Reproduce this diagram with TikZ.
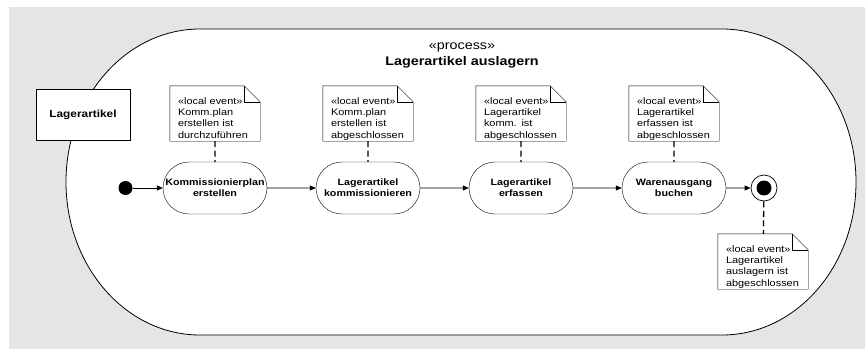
\documentclass[tikz,border=0pt]{standalone}
\usepackage{fontspec}
\setmainfont{Liberation Sans}[FakeStretch=1.15]
\usepackage{tikz}
\usetikzlibrary{arrows.meta,shapes.misc}

\definecolor{bgfill}{HTML}{E5E5E5}

% dog-eared frame round an event note
\newcommand{\evframe}[1]{%
  \draw (#1.south west) -- (#1.north west) -- ([xshift=-16pt]#1.north east)
    -- ([yshift=-16pt]#1.north east) -- (#1.south east) -- cycle;
  \draw ([xshift=-16pt]#1.north east) |- ([yshift=-16pt]#1.north east);}

\begin{document}
\begin{tikzpicture}[x=1pt,y=1pt,
  action/.style={draw, rounded rectangle, minimum width=104pt, minimum height=52pt,
    inner sep=0pt, align=center, font=\fontsize{9.3}{11}\selectfont\bfseries},
  event/.style={inner xsep=8pt, inner ysep=0pt, text width=74pt, align=left,
    text height=18.5pt, text depth=36.5pt, font=\fontsize{9.5}{11.2}\selectfont},
  flow/.style={line width=0.7pt, -{Triangle[length=6pt,width=5pt]}},
  link/.style={line width=1.3pt, dash pattern=on 6pt off 3.5pt}]
  \useasboundingbox (0,0) rectangle (865,349);
  \fill[bgfill] (9,0) rectangle (865,341.5);

  % process frame
  \draw[line width=0.8pt, fill=white] (200,320) -- (722,320)
    arc[start angle=90, end angle=-90, x radius=134, y radius=153] -- (200,14)
    arc[start angle=270, end angle=90, x radius=134, y radius=153] -- cycle;
  \node[font=\fontsize{12.5}{14}\selectfont] (stereo) at (462,302) {«process»};
  \node[font=\fontsize{12.5}{14}\selectfont\bfseries] (title) at (462,287) {Lagerartikel auslagern};

  \node[draw, fill=white, minimum width=94pt, minimum height=51pt,
    font=\fontsize{10.3}{12}\selectfont\bfseries] (item) at (83,234.5) {Lagerartikel};

  % actions
  \node[circle, fill=black, minimum size=14pt, inner sep=0pt] (start) at (125.5,161) {};
  \node[action] (a1) at (215,161) {Kommissionierplan\\erstellen};
  \node[action] (a2) at (368,161) {Lagerartikel\\kommissionieren};
  \node[action] (a3) at (521,161) {Lagerartikel\\erfassen};
  \node[action] (a4) at (674,161) {Warenausgang\\buchen};
  \node[circle, draw, line width=0.7pt, minimum size=26pt, inner sep=0pt] (stop) at (764,161) {};
  \node[circle, fill=black, minimum size=15pt, inner sep=0pt] (stopdot) at (stop) {};

  \draw[flow] (start) -- (a1);
  \draw[flow] (a1) -- (a2);
  \draw[flow] (a2) -- (a3);
  \draw[flow] (a3) -- (a4);
  \draw[flow] (a4) -- (stop);

  % local events
  \node[event] (ev1) at (215,235.5) {«local event»\\Komm.plan\\erstellen ist\\durchzuführen};
  \node[event] (ev2) at (368,235.5) {«local event»\\Komm.plan\\erstellen ist\\abgeschlossen};
  \node[event] (ev3) at (521,235.5) {«local event»\\Lagerartikel\\komm. ist\\abgeschlossen};
  \node[event] (ev4) at (674,235.5) {«local event»\\Lagerartikel\\erfassen ist\\abgeschlossen};
  \node[event] (ev5) at (763,87.5) {«local event»\\Lagerartikel\\auslagern ist\\abgeschlossen};
  \evframe{ev1} \evframe{ev2} \evframe{ev3} \evframe{ev4} \evframe{ev5}

  \draw[link] (ev1) -- (a1);
  \draw[link] (ev2) -- (a2);
  \draw[link] (ev3) -- (a3);
  \draw[link] (ev4) -- (a4);
  \draw[link] (stop) -- (ev5);
\end{tikzpicture}
\end{document}
